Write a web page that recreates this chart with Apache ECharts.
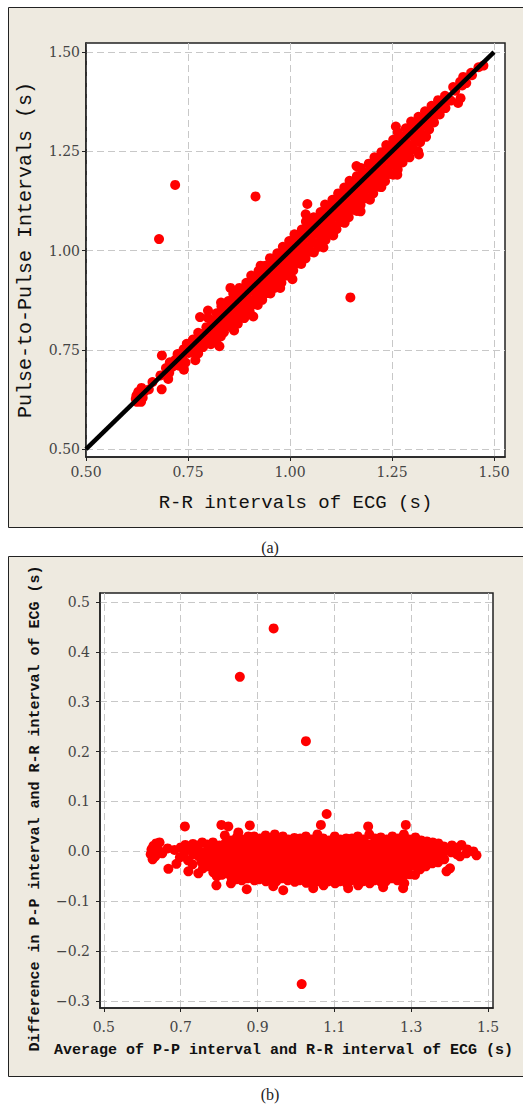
<!DOCTYPE html>
<html>
<head>
<meta charset="utf-8">
<title>P-P intervals vs R-R intervals</title>
<script src="https://cdn.jsdelivr.net/npm/echarts@6.0.0/dist/echarts.min.js"></script>
<style>
  html, body { margin: 0; padding: 0; background: #fff; }
  #chart { width: 523px; height: 1104px; }
</style>
</head>
<body>
<div id="chart"></div>
<script>
// axis ticks
let rrTicks = [0.5, 0.75, 1.0, 1.25, 1.5];
let ppTicks = [0.5, 0.75, 1.0, 1.25, 1.5];
let meanTicks = [0.5, 0.7, 0.9, 1.1, 1.3, 1.5];
let diffTicks = [-0.3, -0.2, -0.1, 0.0, 0.1, 0.2, 0.3, 0.4, 0.5];
let identityLine = [0.5, 1.5];

// beats as [mean of P-P and R-R, P-P minus R-R]
let leftTail = [
  [0.622, -0.006], [0.624, 0.004], [0.627, -0.016], [0.629, 0.011],
  [0.636, 0.016], [0.634, -0.010], [0.645, 0.018], [0.643, 0.002],
  [0.652, -0.004], [0.668, -0.035], [0.666, 0.006], [0.684, 0.003],
  [0.689, -0.025], [0.700, 0.008], [0.698, -0.012], [0.711, 0.050],
  [0.712, 0.013], [0.709, -0.004], [0.720, -0.040], [0.722, 0.006],
  [0.719, -0.018], [0.732, 0.015], [0.733, -0.006], [0.731, -0.026],
  [0.746, -0.044], [0.745, 0.012], [0.747, -0.010], [0.744, 0.003],
  [0.756, 0.018], [0.757, -0.002], [0.755, -0.022], [0.758, -0.034]
];
let bodyLow = [
  [0.769, 0.014], [0.771, 0.002], [0.768, -0.016], [0.772, -0.030],
  [0.784, 0.018], [0.786, 0.006], [0.783, -0.008], [0.787, -0.024], [0.785, -0.042],
  [0.793, -0.068], [0.794, -0.050],
  [0.801, 0.012], [0.799, -0.002], [0.802, -0.018], [0.800, -0.034],
  [0.806, 0.053], [0.807, -0.047],
  [0.815, 0.032], [0.816, 0.016], [0.814, 0.000], [0.817, -0.014], [0.813, -0.030], [0.816, -0.044],
  [0.824, 0.050],
  [0.831, 0.022], [0.829, 0.006], [0.832, -0.008], [0.830, -0.022], [0.828, -0.036], [0.832, -0.052], [0.831, -0.064],
  [0.846, 0.028], [0.844, 0.014], [0.847, 0.000], [0.845, -0.014], [0.843, -0.028], [0.846, -0.042], [0.844, -0.056],
  [0.850, 0.038],
  [0.861, 0.024], [0.859, 0.010], [0.862, -0.004], [0.860, -0.020], [0.858, -0.034], [0.861, -0.048], [0.859, -0.058],
  [0.872, -0.076],
  [0.876, 0.030], [0.874, 0.016], [0.877, 0.002], [0.875, -0.012], [0.873, -0.026], [0.876, -0.040], [0.874, -0.054],
  [0.880, 0.052],
  [0.891, 0.030], [0.889, 0.020], [0.892, 0.008], [0.890, -0.006], [0.888, -0.020], [0.891, -0.034], [0.889, -0.048], [0.892, -0.058],
  [0.906, 0.026], [0.904, 0.012], [0.907, -0.002], [0.905, -0.016], [0.903, -0.030], [0.906, -0.044], [0.904, -0.056],
  [0.921, 0.032], [0.919, 0.018], [0.922, 0.004], [0.920, -0.010], [0.918, -0.024], [0.921, -0.038], [0.919, -0.052], [0.922, -0.060],
  [0.936, 0.026], [0.934, 0.014], [0.937, 0.000], [0.935, -0.014], [0.933, -0.028], [0.936, -0.042], [0.934, -0.056],
  [0.941, -0.070], [0.945, 0.034],
  [0.951, 0.022], [0.949, 0.008], [0.952, -0.006], [0.950, -0.020], [0.948, -0.034], [0.951, -0.048], [0.949, -0.060],
  [0.966, 0.030], [0.964, 0.016], [0.967, 0.002], [0.965, -0.012], [0.963, -0.026], [0.966, -0.040], [0.964, -0.054],
  [0.967, -0.078],
  [0.981, 0.024], [0.979, 0.010], [0.982, -0.004], [0.980, -0.018], [0.978, -0.032], [0.981, -0.046], [0.979, -0.058],
  [0.996, 0.027], [0.994, 0.018], [0.997, 0.004], [0.995, -0.010], [0.993, -0.024], [0.996, -0.038], [0.994, -0.052], [0.997, -0.061],
  [1.011, 0.026], [1.009, 0.012], [1.012, -0.002], [1.010, -0.016], [1.008, -0.030], [1.011, -0.044], [1.009, -0.058],
  [1.026, 0.030], [1.024, 0.016], [1.027, 0.002], [1.025, -0.012], [1.023, -0.026], [1.026, -0.040], [1.024, -0.054], [1.027, -0.063],
  [1.041, 0.024], [1.039, 0.010], [1.042, -0.004], [1.040, -0.018], [1.038, -0.032], [1.041, -0.046], [1.039, -0.060],
  [1.045, -0.074],
  [1.056, 0.034], [1.054, 0.020], [1.057, 0.006], [1.055, -0.008], [1.053, -0.022], [1.056, -0.036], [1.054, -0.050], [1.057, -0.060],
  [1.065, 0.053],
  [1.071, 0.026], [1.069, 0.014], [1.072, 0.000], [1.070, -0.014], [1.068, -0.028], [1.071, -0.042], [1.069, -0.056], [1.072, -0.068],
  [1.080, 0.075],
  [1.086, 0.022], [1.084, 0.008], [1.087, -0.006], [1.085, -0.020], [1.083, -0.034], [1.086, -0.048], [1.084, -0.060]
];
let bodyHigh = [
  [1.101, 0.030], [1.099, 0.016], [1.102, 0.002], [1.100, -0.012], [1.098, -0.026], [1.101, -0.040], [1.099, -0.054], [1.102, -0.064],
  [1.116, 0.024], [1.114, 0.010], [1.117, -0.004], [1.115, -0.018], [1.113, -0.032], [1.116, -0.046], [1.114, -0.060],
  [1.131, 0.026], [1.129, 0.018], [1.132, 0.004], [1.130, -0.010], [1.128, -0.024], [1.131, -0.038], [1.129, -0.052], [1.132, -0.064],
  [1.136, -0.074],
  [1.146, 0.026], [1.144, 0.012], [1.147, -0.002], [1.145, -0.016], [1.143, -0.030], [1.146, -0.044], [1.144, -0.058],
  [1.161, 0.030], [1.159, 0.016], [1.162, 0.002], [1.160, -0.012], [1.158, -0.026], [1.161, -0.040], [1.159, -0.054], [1.162, -0.068],
  [1.176, 0.024], [1.174, 0.010], [1.177, -0.004], [1.175, -0.018], [1.173, -0.032], [1.176, -0.046], [1.174, -0.060],
  [1.188, 0.050],
  [1.191, 0.034], [1.189, 0.014], [1.192, 0.000], [1.190, -0.014], [1.188, -0.028], [1.191, -0.042], [1.189, -0.056], [1.192, -0.064],
  [1.206, 0.026], [1.204, 0.012], [1.207, -0.002], [1.205, -0.016], [1.203, -0.030], [1.206, -0.044], [1.204, -0.058],
  [1.221, 0.028], [1.219, 0.018], [1.222, 0.004], [1.220, -0.010], [1.218, -0.024], [1.221, -0.038], [1.219, -0.052], [1.222, -0.062],
  [1.227, -0.072],
  [1.236, 0.024], [1.234, 0.010], [1.237, -0.004], [1.235, -0.018], [1.233, -0.032], [1.236, -0.046], [1.234, -0.060],
  [1.251, 0.030], [1.249, 0.016], [1.252, 0.002], [1.250, -0.012], [1.248, -0.026], [1.251, -0.040], [1.249, -0.054],
  [1.266, 0.026], [1.264, 0.012], [1.267, -0.002], [1.265, -0.016], [1.263, -0.030], [1.266, -0.044], [1.264, -0.058],
  [1.279, -0.074],
  [1.281, 0.034], [1.279, 0.020], [1.282, 0.006], [1.280, -0.008], [1.278, -0.022], [1.281, -0.036], [1.279, -0.050], [1.282, -0.064],
  [1.286, 0.053],
  [1.296, 0.024], [1.294, 0.010], [1.297, -0.004], [1.295, -0.018], [1.293, -0.032], [1.296, -0.046],
  [1.311, 0.028], [1.309, 0.014], [1.312, 0.000], [1.310, -0.014], [1.308, -0.028], [1.310, -0.047],
  [1.326, 0.022], [1.324, 0.008], [1.327, -0.006], [1.325, -0.020], [1.323, -0.036],
  [1.341, 0.020], [1.339, 0.006], [1.342, -0.008], [1.340, -0.022], [1.338, -0.030],
  [1.356, 0.018], [1.354, 0.004], [1.357, -0.010], [1.355, -0.024]
];
let rightTail = [
  [1.371, 0.016], [1.369, 0.002], [1.372, -0.012], [1.370, -0.022],
  [1.385, 0.010], [1.383, -0.004], [1.386, -0.016],
  [1.392, -0.040], [1.401, -0.034],
  [1.406, 0.012], [1.404, -0.002],
  [1.421, 0.008], [1.419, -0.006],
  [1.427, -0.010], [1.431, 0.013],
  [1.446, 0.004], [1.444, -0.004],
  [1.462, 0.000], [1.470, -0.008]
];
let outliers = [
  [0.854, 0.350], [0.942, 0.447], [1.026, 0.221], [1.015, -0.266]
];

let beats = leftTail.concat(bodyLow, bodyHigh, rightTail, outliers);
// panel (a) plots the same beats as R-R vs P-P pairs
let rrVsPp = beats.map(p => [p[0] - p[1] / 2, p[0] + p[1] / 2]);

let tickFont = { fontFamily: 'DejaVu Serif', fontSize: 14, color: '#444' };
let gridLine = { show: true, lineStyle: { color: '#c8c8c8', width: 1, type: [7, 4] } };
let frameLine = { show: true, onZero: false, lineStyle: { color: '#222', width: 1.5 } };

function minusSign(v, digits) {
  return (v < 0 ? '\u2212' : '') + Math.abs(v).toFixed(digits);
}

function valueAxis(ticks, digits, min, max, margin, name, nameGap, nameStyle) {
  return {
    type: 'value',
    min: min,
    max: max,
    name: name,
    nameLocation: 'middle',
    nameGap: nameGap,
    nameTextStyle: nameStyle,
    axisLine: frameLine,
    axisTick: {
      show: true, inside: false, length: 4, customValues: ticks,
      lineStyle: { color: '#222', width: 1 }
    },
    axisLabel: Object.assign({
      margin: margin,
      customValues: ticks,
      formatter: v => minusSign(v, digits)
    }, tickFont),
    splitLine: gridLine
  };
}

let chart = echarts.init(document.getElementById('chart'), null, { renderer: 'svg' });

let option = {
  animation: false,
  backgroundColor: '#fff',
  graphic: [
    { type: 'rect', z: -10, shape: { x: 8.5, y: 7.5, width: 530, height: 520 },
      style: { fill: '#EEEAE0', stroke: '#222', lineWidth: 1 } },
    { type: 'rect', z: -10, shape: { x: 8.5, y: 556.5, width: 530, height: 520 },
      style: { fill: '#EEEAE0', stroke: '#222', lineWidth: 1 } },
    { type: 'text', z: 10, x: 270, y: 547,
      style: { text: '(a)', font: '16px "Liberation Serif"', fill: '#222', textAlign: 'center', textVerticalAlign: 'middle' } },
    { type: 'text', z: 10, x: 270, y: 1094,
      style: { text: '(b)', font: '16px "Liberation Serif"', fill: '#222', textAlign: 'center', textVerticalAlign: 'middle' } }
  ],
  grid: [
    { left: 86, top: 43, width: 419, height: 414, show: true, backgroundColor: '#fff',
      borderColor: '#222', borderWidth: 1.5, containLabel: false, outerBoundsMode: 'none' },
    { left: 100, top: 593, width: 393, height: 415, show: true, backgroundColor: '#fff',
      borderColor: '#222', borderWidth: 1.5, containLabel: false, outerBoundsMode: 'none' }
  ],
  xAxis: [
    Object.assign(valueAxis(rrTicks, 2, 0.5, 1.527, 8, 'R-R intervals of ECG (s)', 36,
      { fontFamily: 'Liberation Mono', fontSize: 19, color: '#111' }), { gridIndex: 0 }),
    Object.assign(valueAxis(meanTicks, 1, 0.49, 1.513, 12,
      'Average of P-P interval and R-R interval of ECG (s)', 35,
      { fontFamily: 'Liberation Mono', fontSize: 15, fontWeight: 'bold', color: '#111', padding: [0, 26, 0, 0] }),
      { gridIndex: 1 })
  ],
  yAxis: [
    Object.assign(valueAxis(ppTicks, 2, 0.48, 1.523, 6, 'Pulse-to-Pulse Intervals (s)', 51,
      { fontFamily: 'Liberation Mono', fontSize: 20, color: '#111' }), { gridIndex: 0 }),
    Object.assign(valueAxis(diffTicks, 1, -0.314, 0.518, 10,
      'Difference in P-P interval and R-R interval of ECG (s)', 57,
      { fontFamily: 'Liberation Mono', fontSize: 15, fontWeight: 'bold', color: '#111', padding: [0, 16, 0, 0] }),
      { gridIndex: 1 })
  ],
  series: [
    {
      type: 'scatter', xAxisIndex: 0, yAxisIndex: 0,
      data: rrVsPp, symbolSize: 10, silent: true,
      itemStyle: { color: '#ff0000', opacity: 1 }
    },
    {
      type: 'line', xAxisIndex: 0, yAxisIndex: 0, z: 5,
      data: identityLine.map(v => [v, v]), symbol: 'none', silent: true,
      lineStyle: { color: '#000', width: 4.5 }
    },
    {
      type: 'scatter', xAxisIndex: 1, yAxisIndex: 1,
      data: beats, symbolSize: 10, silent: true,
      itemStyle: { color: '#ff0000', opacity: 1 }
    }
  ]
};

chart.setOption(option);
</script>
</body>
</html>
